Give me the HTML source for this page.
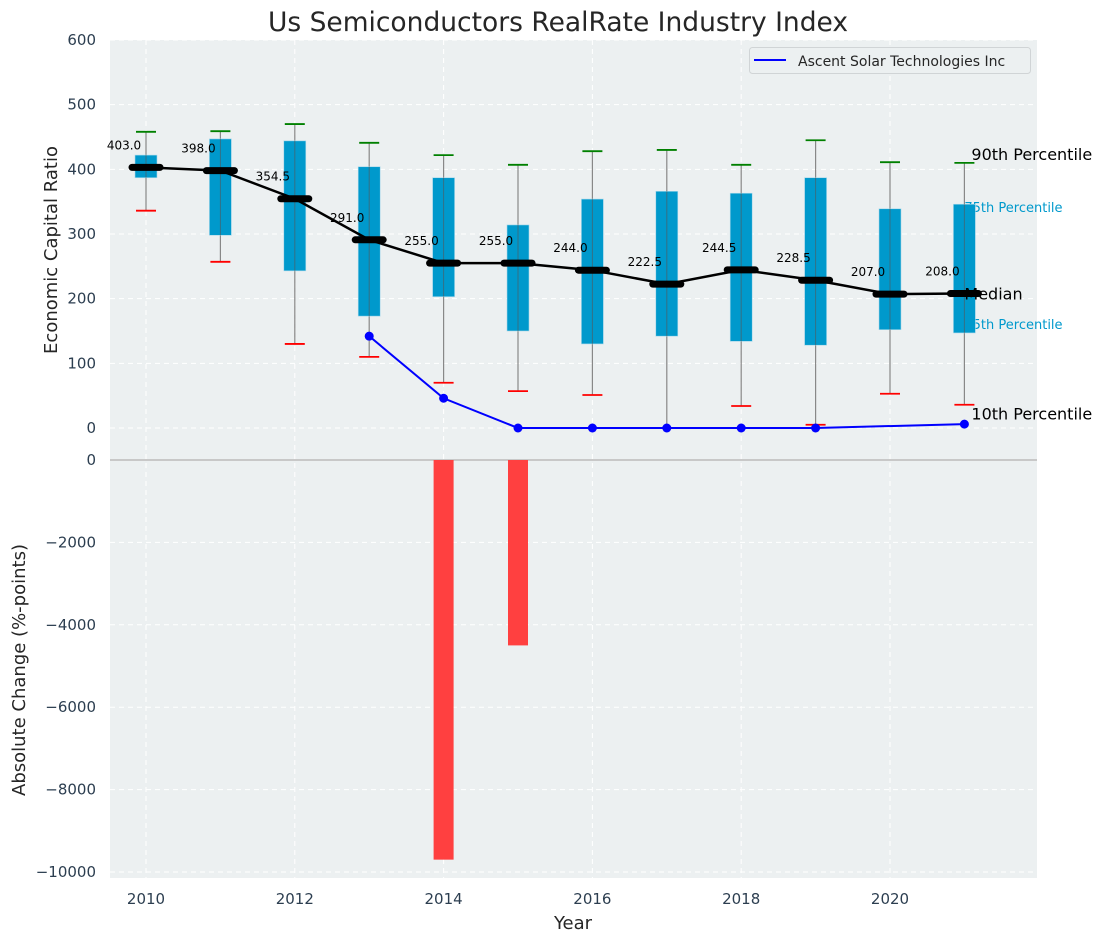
<!DOCTYPE html>
<html><head><meta charset="utf-8">
<style>
html,body{margin:0;padding:0;background:#fff;}
svg{display:block;font-family:"DejaVu Sans","Liberation Sans",sans-serif;}
</style></head>
<body>
<svg id="chart" width="1107" height="942" viewBox="0 0 1107 942" xmlns="http://www.w3.org/2000/svg">
<text x="558" y="31" text-anchor="middle" font-size="26.5" fill="#262626">Us Semiconductors RealRate Industry Index</text>
<rect x="110" y="40" width="927" height="838" fill="#ecf0f1"/>
<g id="grid"></g>
<g id="marks"></g>
<g id="axes"></g>
</svg>
<script>
const years = [2010,2011,2012,2013,2014,2015,2016,2017,2018,2019,2020,2021];
const p90 = [458,459,470,441,422,407,428,430,407,445,411,410];
const p75 = [422,447,444,404,387,314,354,366,363,387,339,346];
const medians = [403,398,354.5,291,255,255,244,222.5,244.5,228.5,207,208];
const p25 = [387,298,243,173,203,150,130,142,134,128,152,147];
const p10 = [336,257,130,110,70,57,51,0,34,5,53,36];
const companyYears = [2013,2014,2015,2016,2017,2018,2019,2021];
const companyValues = [142,46,0,0,0,0,0,6];
const changeYears = [2014,2015];
const changeValues = [-9700,-4500];
const topTicks = [0,100,200,300,400,500,600];
const bottomTicks = [0,-2000,-4000,-6000,-8000,-10000];
const xTicks = [2010,2012,2014,2016,2018,2020];

const NS="http://www.w3.org/2000/svg";
function X(y){return 146+(y-2010)*74.4;}
function YT(v){return 428-v*0.6467;}
function YB(v){return 460-v*0.0412;}
function mk(parent,tag,attrs,text){const e=document.createElementNS(NS,tag);for(const k in attrs)e.setAttribute(k,attrs[k]);if(text!==undefined)e.textContent=text;document.getElementById(parent).appendChild(e);return e;}

xTicks.forEach(t=>{const e=mk('grid','line',{x1:X(t),x2:X(t),y1:40,y2:878,stroke:'#fff','stroke-dasharray':'5,4','stroke-width':1});

});
topTicks.forEach(t=>{const e=mk('grid','line',{x1:110,x2:1037,y1:YT(t),y2:YT(t),stroke:'#fff','stroke-dasharray':'5,4','stroke-width':1});

});
bottomTicks.forEach(t=>{const e=mk('grid','line',{x1:110,x2:1037,y1:YB(t),y2:YB(t),stroke:'#fff','stroke-dasharray':'5,4','stroke-width':1});

});

const lx=X(2021);
let e;
e=mk('marks','text',{x:lx,y:YT(p75[11])+8,'font-size':13,fill:'#0099cc'},'75th Percentile');


e=mk('marks','text',{x:lx,y:YT(p25[11])-4,'font-size':13,fill:'#0099cc'},'25th Percentile');



years.forEach((y,i)=>{
  const cx=X(y);
  let w=mk('marks','line',{x1:cx,x2:cx,y1:YT(p90[i]),y2:YT(p10[i]),stroke:'#888','stroke-width':1.2});
  
  
  let b=mk('marks','rect',{x:cx-11,y:YT(p75[i]),width:22,height:YT(p25[i])-YT(p75[i]),fill:'#0099cc',stroke:'#a8d8ea','stroke-width':0.6});
  
  
  let l=mk('marks','line',{x1:cx,x2:cx,y1:YT(p75[i]),y2:YT(p25[i]),stroke:'#555','stroke-width':1,opacity:0.6});
  
  
  let c1=mk('marks','line',{x1:cx-10,x2:cx+10,y1:YT(p90[i]),y2:YT(p90[i]),stroke:'green','stroke-width':1.8});
  
  
  let c2=mk('marks','line',{x1:cx-10,x2:cx+10,y1:YT(p10[i]),y2:YT(p10[i]),stroke:'red','stroke-width':1.8});
  
  
});

let mp=years.map((y,i)=>X(y)+','+YT(medians[i])).join(' ');
e=mk('marks','polyline',{points:mp,fill:'none',stroke:'#000','stroke-width':2.5});


years.forEach((y,i)=>{
  const cx=X(y),cy=YT(medians[i]);
  let m=mk('marks','line',{x1:cx-14,x2:cx+14,y1:cy,y2:cy,stroke:'#000','stroke-width':7,'stroke-linecap':'round'});
  
  
  let t=mk('marks','text',{x:cx-22,y:cy-18,'font-size':12,fill:'#000','text-anchor':'middle'},medians[i].toFixed(1));
  
  
});

let cp=companyYears.map((y,i)=>X(y)+','+YT(companyValues[i])).join(' ');
e=mk('marks','polyline',{points:cp,fill:'none',stroke:'#0000ff','stroke-width':2});


companyYears.forEach((y,i)=>{
  let d=mk('marks','circle',{cx:X(y),cy:YT(companyValues[i]),r:4.5,fill:'#0000ff'});
  
  
});

e=mk('marks','text',{x:lx+7,y:YT(p90[11])-3,'font-size':16,fill:'#000'},'90th Percentile');


e=mk('marks','text',{x:lx,y:YT(medians[11])+6,'font-size':16,fill:'#000'},'Median');


e=mk('marks','text',{x:lx+7,y:YT(p10[11])+15,'font-size':16,fill:'#000'},'10th Percentile');



e=mk('marks','line',{x1:110,x2:1037,y1:YB(0),y2:YB(0),stroke:'#bbb','stroke-width':1.5});



changeYears.forEach((y,i)=>{
  const v=changeValues[i];
  let r=mk('marks','rect',{x:X(y)-10,y:Math.min(YB(0),YB(v)),width:20,height:Math.abs(YB(v)-YB(0)),fill:'#ff4040'});
  
  
});

topTicks.forEach(t=>{let a=mk('axes','text',{x:96,y:YT(t)+5,'font-size':15,fill:'#2c3e50','text-anchor':'end'},String(t));

});
bottomTicks.forEach(t=>{let a=mk('axes','text',{x:96,y:YB(t)+5,'font-size':15,fill:'#2c3e50','text-anchor':'end'},String(t).replace('-','\u2212'));

});
xTicks.forEach(t=>{let a=mk('axes','text',{x:X(t),y:904,'font-size':15,fill:'#2c3e50','text-anchor':'middle'},String(t));

});
e=mk('axes','text',{x:573,y:929,'font-size':18,fill:'#262626','text-anchor':'middle'},'Year');


e=mk('axes','text',{x:57,y:250,'font-size':18,fill:'#262626','text-anchor':'middle',transform:'rotate(-90 57 250)'},'Economic Capital Ratio');


e=mk('axes','text',{x:25,y:670,'font-size':18,fill:'#262626','text-anchor':'middle',transform:'rotate(-90 25 670)'},'Absolute Change (%-points)');



e=mk('axes','rect',{x:749.5,y:47.5,width:281,height:26,rx:3,fill:'#ecf0f1',stroke:'#d0d4d6','stroke-width':1});


e=mk('axes','line',{x1:754,x2:786,y1:60,y2:60,stroke:'#0000ff','stroke-width':2});


e=mk('axes','text',{x:798,y:66,'font-size':14,fill:'#262626'},'Ascent Solar Technologies Inc');


</script>
</body></html>
